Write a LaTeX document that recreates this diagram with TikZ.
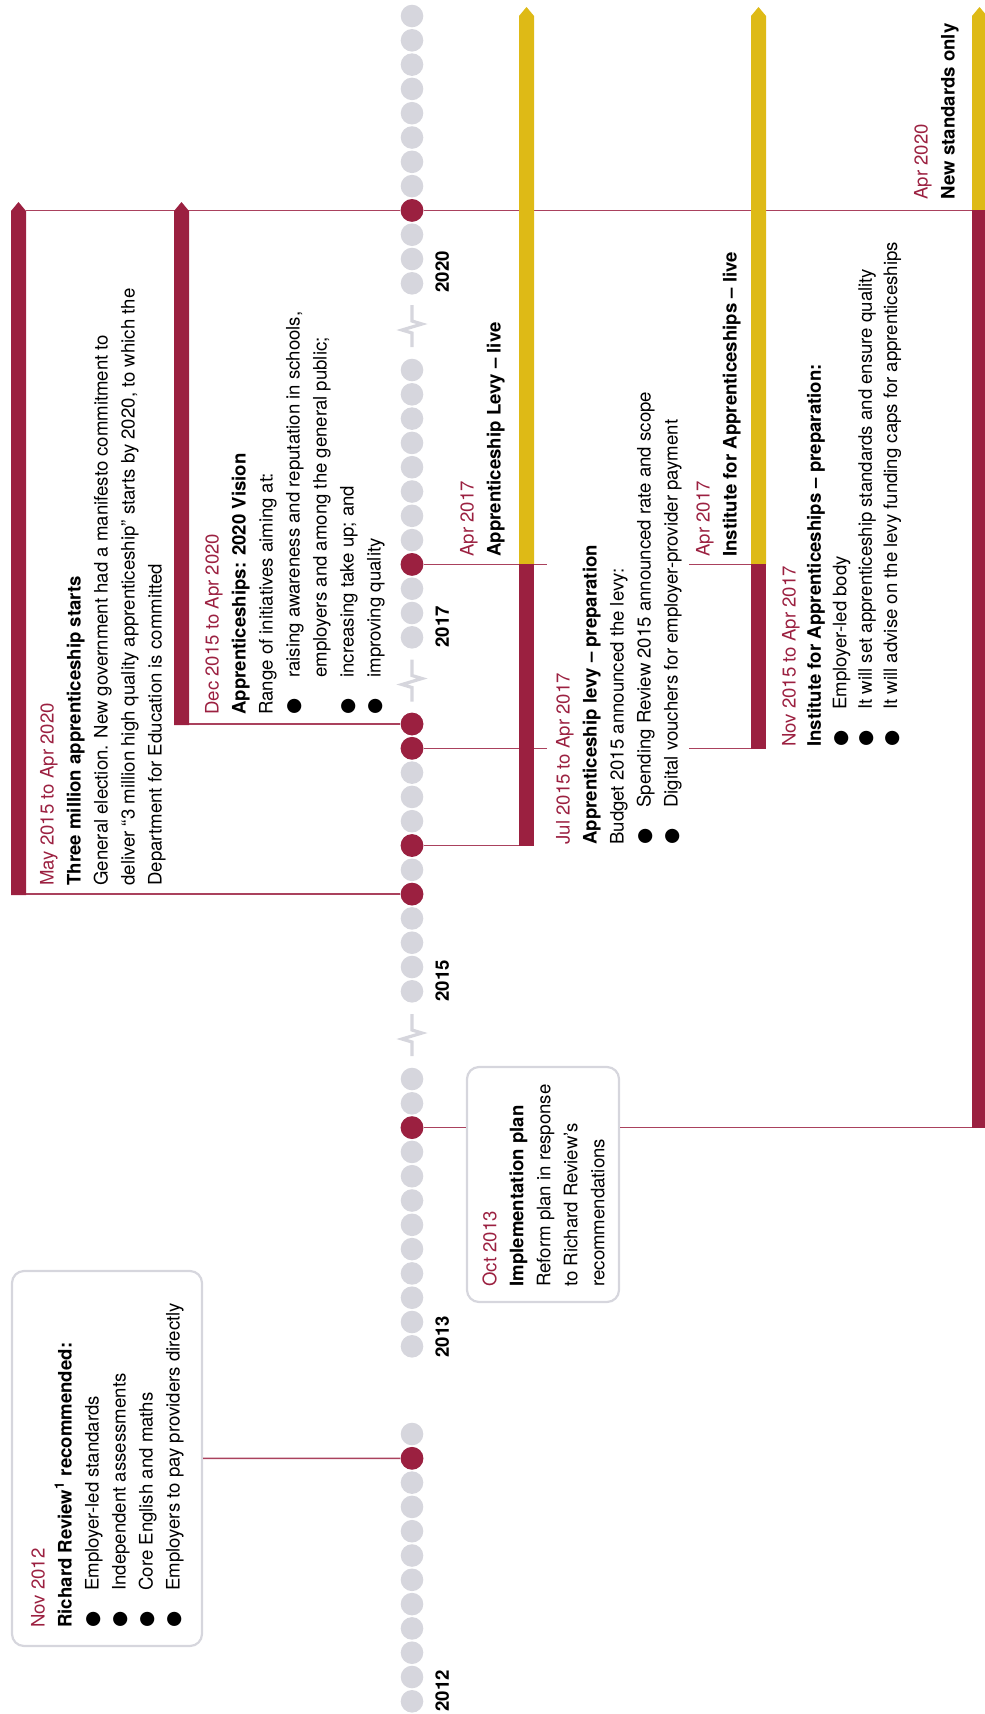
\documentclass[tikz,border=0pt]{standalone}
\usepackage{fontspec}
\setmainfont{TeX Gyre Heros}
\newfontfamily\dotfont{DejaVu Sans}
\usetikzlibrary{positioning}

\definecolor{claret}{RGB}{155,32,64}
\definecolor{mustard}{RGB}{222,186,22}
\definecolor{pebble}{RGB}{214,214,221}

\newcommand{\bl}{\makebox[18.5pt][l]{\dotfont ●}}
\newcommand{\when}[1]{\textcolor{claret}{#1}}

\tikzset{%
  blurb/.style={rotate=90, anchor=north west, inner sep=0pt, align=left, font=\fontsize{9.3}{13.5}\selectfont},
  year/.style={blurb, font=\fontsize{9.3}{13.5}\selectfont\bfseries},
  event/.style={circle, fill=claret, inner sep=0pt, minimum size=11.4pt},
  link/.style={draw=claret!85, line width=0.75pt},
  card/.style={draw=pebble, line width=1.1pt, rounded corners=6pt},
  gap/.style={draw=pebble, line width=1.6pt},
}

\begin{document}
\begin{tikzpicture}[x=0.5pt, y=-0.5pt]
\useasboundingbox (0,0) rectangle (985,1714);

% timeline
\foreach \s in {16,370,724,1079,1434} {
  \foreach \k in {0,...,11}
    \fill[pebble] (412,\s+24.3*\k) circle (11.3);
}
\foreach \m in {0,354.5,709}
  \draw[gap] (412,305+\m) -- (412,321+\m) -- (422,324+\m) -- (402,330+\m) -- (412,333+\m) -- (412,347+\m);

\node[event] (apr20) at (412,210.4) {};
\node[event] (apr17) at (412,564.4) {};
\node[event] (dec15) at (412,724) {};
\node[event] (nov15) at (412,748.3) {};
\node[event] (jul15) at (412,845.5) {};
\node[event] (may15) at (412,894.1) {};
\node[event] (oct13) at (412,1127.6) {};
\node[event] (nov12) at (412,1458.3) {};

\node[year] (y20) at (435,293) {2020};
\node[year] (y17) at (435,648) {2017};
\node[year] (y15) at (435,1002) {2015};
\node[year] (y13) at (435,1358) {2013};
\node[year] (y12) at (435,1712) {2012};

% boxes
\node[card, minimum width=95pt, minimum height=187.5pt] (rrbox) at (107,1458.5) {};
\node[card, minimum width=76pt, minimum height=117.5pt] (ipbox) at (543,1184.5) {};

% bar edges
\coordinate (b1) at (26,0);
\coordinate (b2) at (189,0);
\coordinate (b3) at (519,0);
\coordinate (b4) at (751,0);
\coordinate (b4r) at (766,0);
\coordinate (b5) at (972,0);
\coordinate (cutL) at (547,0);
\coordinate (cutR) at (689,0);

% connectors
\draw[link] (rrbox) -- (nov12);
\draw[link] (oct13) -- (ipbox.west |- oct13);
\draw[link] (ipbox.east |- oct13) -- (b5 |- oct13);
\draw[link] (b1 |- may15) -- (may15);
\draw[link] (jul15) -- (b3 |- jul15);
\draw[link] (nov15) -- (cutL |- nov15);
\draw[link] (cutR |- nov15) -- (b4r |- nov15);
\draw[link] (b2 |- dec15) -- (dec15);
\draw[link] (apr17) -- (cutL |- apr17);
\draw[link] (cutR |- apr17) -- (b4 |- apr17);
\draw[link] (b1 |- apr20) -- (apr20);
\draw[link] (apr20) -- (b5 |- apr20);

% bars
\fill[claret] (11,211) -- (18.5,202) -- (26,211) -- (26,895) -- (11,895) -- cycle;
\fill[claret] (174,211) -- (181.5,202) -- (189,211) -- (189,725) -- (174,725) -- cycle;
\foreach \x/\c/\b in {519/564.4/846.3, 751/564.4/749, 972/210.4/1128.3} {
  \fill[mustard] (\x,16) -- (\x+7.5,7) -- (\x+15,16) -- (\x+15,\c) -- (\x,\c) -- cycle;
  \fill[claret] (\x,\c) rectangle (\x+15,\b);
}

% texts
\node[blurb] (t12) at (30.6,1628) {\when{Nov 2012}\\
  \textbf{Richard Review\textsuperscript{1} recommended:}\\
  \bl Employer-led standards\\
  \bl Independent assessments\\
  \bl Core English and maths\\
  \bl Employers to pay providers directly};
\node[blurb] (t13) at (482,1287) {\when{Oct 2013}\\
  \textbf{Implementation plan}\\
  Reform plan in response\\
  to Richard Review’s\\
  recommendations};
\node[blurb] (t15a) at (39.6,886) {\when{May 2015 to Apr 2020}\\
  \textbf{Three million apprenticeship starts}\\
  General election. New government had a manifesto commitment to\\
  deliver “3 million high quality apprenticeship” starts by 2020, to which the\\
  Department for Education is committed};
\node[blurb] (t15d) at (204.6,715) {\when{Dec 2015 to Apr 2020}\\
  \textbf{Apprenticeships: 2020 Vision}\\
  Range of initiatives aiming at:\\
  \bl raising awareness and reputation in schools,\\
  \hspace*{18.5pt}employers and among the general public;\\
  \bl increasing take up; and\\
  \bl improving quality};
\node[blurb] (t15j) at (555.6,845) {\when{Jul 2015 to Apr 2017}\\
  \textbf{Apprenticeship levy – preparation}\\
  Budget 2015 announced the levy:\\
  \bl Spending Review 2015 announced rate and scope\\
  \bl Digital vouchers for employer-provider payment};
\node[blurb] (t17l) at (459.6,557) {\when{Apr 2017}\\
  \textbf{Apprenticeship Levy – live}};
\node[blurb] (t17i) at (695.6,557) {\when{Apr 2017}\\
  \textbf{Institute for Apprenticeships – live}};
\node[blurb, font=\fontsize{9.3}{12.7}\selectfont] (t15n) at (781.6,747) {\when{Nov 2015 to Apr 2017}\\
  \textbf{Institute for Apprenticeships – preparation:}\\
  \bl Employer-led body\\
  \bl It will set apprenticeship standards and ensure quality\\
  \bl It will advise on the levy funding caps for apprenticeships};
\node[blurb] (t20) at (913.6,200) {\when{Apr 2020}\\
  \textbf{New standards only}};
\end{tikzpicture}
\end{document}
